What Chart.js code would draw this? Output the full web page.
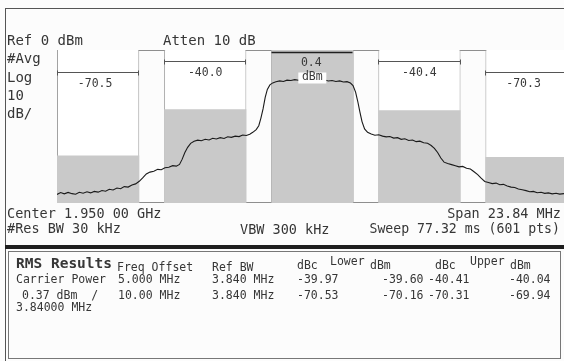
<!DOCTYPE html>
<html>
<head>
<meta charset="utf-8">
<script src="https://cdn.jsdelivr.net/npm/chart.js@4.4.1/dist/chart.umd.min.js"></script>
<style>
  html, body { margin: 0; padding: 0; background: #fff; }
  #screen { position: relative; width: 564px; height: 361px; overflow: hidden; background: #fcfcfc;
            font-family: "DejaVu Sans Mono", monospace; color: #363636; }
  #screen canvas { position: absolute; left: 0; top: 0; }
  .t { position: absolute; white-space: pre; font-size: 14px; line-height: 16px; }
  .s { position: absolute; white-space: pre; font-size: 11.5px; line-height: 14px; }
  #frame { position: absolute; left: 5px; top: 8px; width: 570px; height: 360px;
           border-left: 1px solid #555; border-top: 1px solid #555; }
  #sep { position: absolute; left: 5px; top: 245px; width: 560px; height: 4px; background: #1e1e1e; }
  #panel { position: absolute; left: 8px; top: 251px; width: 551px; height: 106px; border: 1px solid #777; }
</style>
</head>
<body>
<div id="screen">
  <div id="frame"></div>
  <canvas id="acp" width="564" height="361"></canvas>

  <div class="t" style="left:7px;top:32px">Ref 0 dBm</div>
  <div class="t" style="left:163px;top:32px">Atten 10 dB</div>
  <div class="t" style="left:7px;top:50px">#Avg</div>
  <div class="t" style="left:7px;top:69px">Log</div>
  <div class="t" style="left:7px;top:87px">10</div>
  <div class="t" style="left:7px;top:105px">dB/</div>

  <div class="t" style="left:7px;top:205px;font-size:13.5px">Center 1.950 00 GHz</div>
  <div class="t" style="right:3px;top:205px;font-size:13.5px">Span 23.84 MHz</div>
  <div class="t" style="left:7px;top:220px;font-size:13.5px">#Res BW 30 kHz</div>
  <div class="t" style="left:240px;top:221px;font-size:13.5px">VBW 300 kHz</div>
  <div class="t" style="right:4px;top:221px;font-size:13.2px">Sweep 77.32 ms (601 pts)</div>

  <div id="sep"></div>
  <div id="panel"></div>
  <div class="t" style="left:16px;top:255px;font-weight:bold;font-size:14.5px">RMS Results</div>
  <div class="s" style="left:117px;top:260px">Freq Offset</div>
  <div class="s" style="left:212px;top:260px">Ref BW</div>
  <div class="s" style="left:297px;top:258px">dBc</div>
  <div class="s" style="left:330px;top:254px">Lower</div>
  <div class="s" style="left:370px;top:258px">dBm</div>
  <div class="s" style="left:435px;top:258px">dBc</div>
  <div class="s" style="left:470px;top:254px">Upper</div>
  <div class="s" style="left:510px;top:258px">dBm</div>
  <div class="s" style="left:16px;top:272px">Carrier Power</div>
  <div class="s" style="left:22px;top:288px">0.37 dBm  /</div>
  <div class="s" style="left:16px;top:300px">3.84000 MHz</div>
  <div id="rows"></div>
</div>

<script>
// channel boxes (offset from centre, MHz)
const chanOffset = [-10, -5, 0, 5, 10];
const chanBW = 3.84;
const chanPower = [-69.0, -38.8, 0.37, -39.3, -69.9];   // dBm, height of grey fill
const chanLabel = ['-70.5', '-40.0', '0.4', '-40.4', '-70.3'];
const refLevel = 0;
const bottomLevel = -100;
const spanMin = -11.92;
const spanMax = 11.75;   // right edge of the screen is cut off

// averaged trace, MHz offset vs dBm
const traceFreq = [
  -11.92, -11.75, -11.58, -11.40, -11.22, -11.05, -10.88, -10.70, -10.52, -10.35,
  -10.18, -10.00, -9.82, -9.65, -9.48, -9.30, -9.12, -8.95, -8.78, -8.60,
  -8.42, -8.25, -8.08, -7.92, -7.75, -7.58, -7.40, -7.22, -7.05, -6.88,
  -6.70, -6.52, -6.35, -6.20, -6.08, -5.95, -5.82, -5.68, -5.52, -5.35,
  -5.18, -5.00, -4.82, -4.65, -4.48, -4.30, -4.12, -3.95, -3.78, -3.60,
  -3.42, -3.25, -3.08, -2.92, -2.78, -2.62, -2.50, -2.40, -2.30, -2.20,
  -2.10, -1.98, -1.85, -1.70, -1.52, -1.35, -1.18, -1.00, -0.82, -0.65,
  -0.48, -0.30, -0.12, 0.05, 0.22, 0.40, 0.58, 0.75, 0.92, 1.10,
  1.28, 1.45, 1.62, 1.78, 1.90, 2.02, 2.12, 2.22, 2.32, 2.44,
  2.58, 2.75, 2.92, 3.10, 3.28, 3.45, 3.62, 3.80, 3.98, 4.15,
  4.32, 4.50, 4.68, 4.85, 5.02, 5.20, 5.38, 5.55, 5.70, 5.85,
  6.00, 6.15, 6.32, 6.50, 6.68, 6.85, 7.02, 7.20, 7.38, 7.55,
  7.72, 7.88, 8.05, 8.22, 8.40, 8.58, 8.75, 8.92, 9.10, 9.28,
  9.45, 9.62, 9.80, 9.98, 10.15, 10.32, 10.50, 10.68, 10.85, 11.02,
  11.20, 11.38, 11.55, 11.75
];
const traceLevel = [
  -94.4, -93.2, -94.0, -93.1, -93.9, -94.3, -93.0, -93.6, -92.7, -93.4,
  -92.4, -92.9, -91.8, -92.3, -91.0, -91.5, -90.2, -90.7, -89.3, -89.6,
  -88.2, -87.5, -85.8, -83.6, -81.0, -79.8, -79.2, -78.0, -78.3, -77.0,
  -76.6, -75.6, -75.9, -74.8, -71.5, -67.0, -63.6, -61.0, -59.6, -58.9,
  -59.3, -58.3, -58.8, -57.7, -58.2, -57.3, -57.8, -56.7, -57.1, -56.3,
  -56.6, -55.6, -55.9, -55.0, -53.8, -52.0, -49.5, -44.5, -38.5, -31.0,
  -25.8, -22.8, -21.5, -20.8, -20.2, -20.6, -19.7, -19.9, -19.4, -19.8,
  -19.2, -19.6, -19.3, -19.9, -19.5, -20.0, -19.6, -20.3, -19.9, -20.6,
  -20.2, -20.9, -20.7, -21.6, -23.2, -27.5, -33.5, -40.5, -46.8, -51.6,
  -53.8, -54.9, -55.7, -55.4, -56.3, -56.8, -56.5, -57.6, -57.3, -58.4,
  -58.0, -59.1, -58.8, -59.9, -59.6, -60.6, -61.0, -62.4, -64.3, -67.0,
  -70.6, -73.3, -74.2, -74.9, -75.6, -76.4, -76.1, -77.3, -77.8, -79.6,
  -81.5, -83.8, -85.9, -86.6, -87.3, -87.0, -88.1, -87.8, -88.9, -89.6,
  -89.9, -90.8, -91.3, -91.9, -92.6, -92.4, -93.3, -93.0, -93.7, -93.4,
  -94.0, -93.6, -94.2, -93.9
];

// RMS results table
const tblOffset = ['5.000 MHz', '10.00 MHz'];
const tblRefBW = ['3.840 MHz', '3.840 MHz'];
const lowerDbc = ['-39.97', '-70.53'];
const lowerDbm = ['-39.60', '-70.16'];
const upperDbc = ['-40.41', '-70.31'];
const upperDbm = ['-40.04', '-69.94'];

// fill table rows
const rows = document.getElementById('rows');
[272, 288].forEach((top, r) => {
  const cells = [
    [118, tblOffset[r]], [212, tblRefBW[r]], [297, lowerDbc[r]],
    [382, lowerDbm[r]], [428, upperDbc[r]], [509, upperDbm[r]]
  ];
  cells.forEach(([left, txt]) => {
    const d = document.createElement('div');
    d.className = 's';
    d.style.left = left + 'px';
    d.style.top = top + 'px';
    d.textContent = txt;
    rows.appendChild(d);
  });
});

// plot frame + channel brackets / labels
const channelMarks = {
  id: 'channelMarks',
  beforeDatasetsDraw(chart) {
    const { ctx, chartArea: a } = chart;
    ctx.save();
    ctx.strokeStyle = '#8e8e8e';
    ctx.lineWidth = 1;
    ctx.strokeRect(a.left + 0.5, a.top + 0.5, a.right - a.left, a.bottom - a.top - 1);
    ctx.restore();
  },
  afterDatasetsDraw(chart) {
    const { ctx, scales: { x, y } } = chart;
    ctx.save();
    ctx.font = '11.5px "DejaVu Sans Mono"';
    ctx.textAlign = 'center';
    ctx.textBaseline = 'middle';
    chanOffset.forEach((off, i) => {
      const x0 = Math.round(x.getPixelForValue(off - chanBW / 2)) + 0.5;
      const x1 = Math.round(x.getPixelForValue(off + chanBW / 2)) - 0.5;
      const xc = x.getPixelForValue(off);
      const level = off === 0 ? -1.5 : (Math.abs(off) > 7 ? -14.5 : -7.3);
      const yb = Math.round(y.getPixelForValue(level)) + 0.5;
      ctx.strokeStyle = off === 0 ? '#202020' : '#555';
      ctx.lineWidth = off === 0 ? 1.5 : 1;
      ctx.beginPath();
      ctx.moveTo(x0, yb);
      ctx.lineTo(x1, yb);
      if (off !== 0) {
        ctx.moveTo(x0, yb - 2); ctx.lineTo(x0, yb + 3);
        ctx.moveTo(x1, yb - 2); ctx.lineTo(x1, yb + 3);
      }
      ctx.stroke();
      ctx.fillStyle = '#3a3a3a';
      if (off === 0) {
        ctx.fillText(chanLabel[i], xc - 1, yb + 11);
        ctx.fillStyle = '#fff';
        ctx.fillRect(xc - 14, yb + 20, 28, 11);
        ctx.fillStyle = '#3a3a3a';
        ctx.fillText('dBm', xc, yb + 25);
      } else {
        ctx.fillText(chanLabel[i], xc - (Math.abs(off) > 7 ? 3 : 0), yb + 12);
      }
    });
    ctx.restore();
  }
};

new Chart(document.getElementById('acp'), {
  type: 'line',
  data: {
    datasets: [
      {
        label: 'Trace',
        data: traceFreq.map((f, i) => ({ x: f, y: traceLevel[i] })),
        borderColor: '#1a1a1a',
        borderWidth: 1.1,
        pointRadius: 0,
        tension: 0,
        order: 0
      },
      {
        type: 'bar',
        label: 'Channel power',
        data: chanOffset.map((f, i) => ({ x: f, y: [bottomLevel, chanPower[i]] })),
        backgroundColor: '#c9c9c9',
        borderWidth: 0,
        grouped: false,
        categoryPercentage: 1,
        barPercentage: chanBW / 5,
        order: 1
      },
      {
        type: 'bar',
        label: 'Channels',
        data: chanOffset.map((f) => ({ x: f, y: [bottomLevel, refLevel] })),
        backgroundColor: 'rgba(255,255,255,1)',
        borderColor: chanOffset.map((f) => (f === 0 ? '#262626' : '#a2a2a2')),
        borderWidth: { left: 1, right: 1, top: 0, bottom: 0 },
        borderSkipped: false,
        grouped: false,
        categoryPercentage: 1,
        barPercentage: chanBW / 5,
        order: 2
      }
    ]
  },
  options: {
    responsive: false,
    animation: false,
    events: [],
    layout: { padding: { left: 57, top: 50, right: 0, bottom: 158 } },
    plugins: { legend: { display: false }, tooltip: { enabled: false } },
    scales: {
      x: { type: 'linear', min: spanMin, max: spanMax, offset: false, display: false,
           ticks: { stepSize: 5, includeBounds: false } },
      y: { type: 'linear', min: bottomLevel, max: refLevel, display: false }
    }
  },
  plugins: [channelMarks]
});
</script>
</body>
</html>
